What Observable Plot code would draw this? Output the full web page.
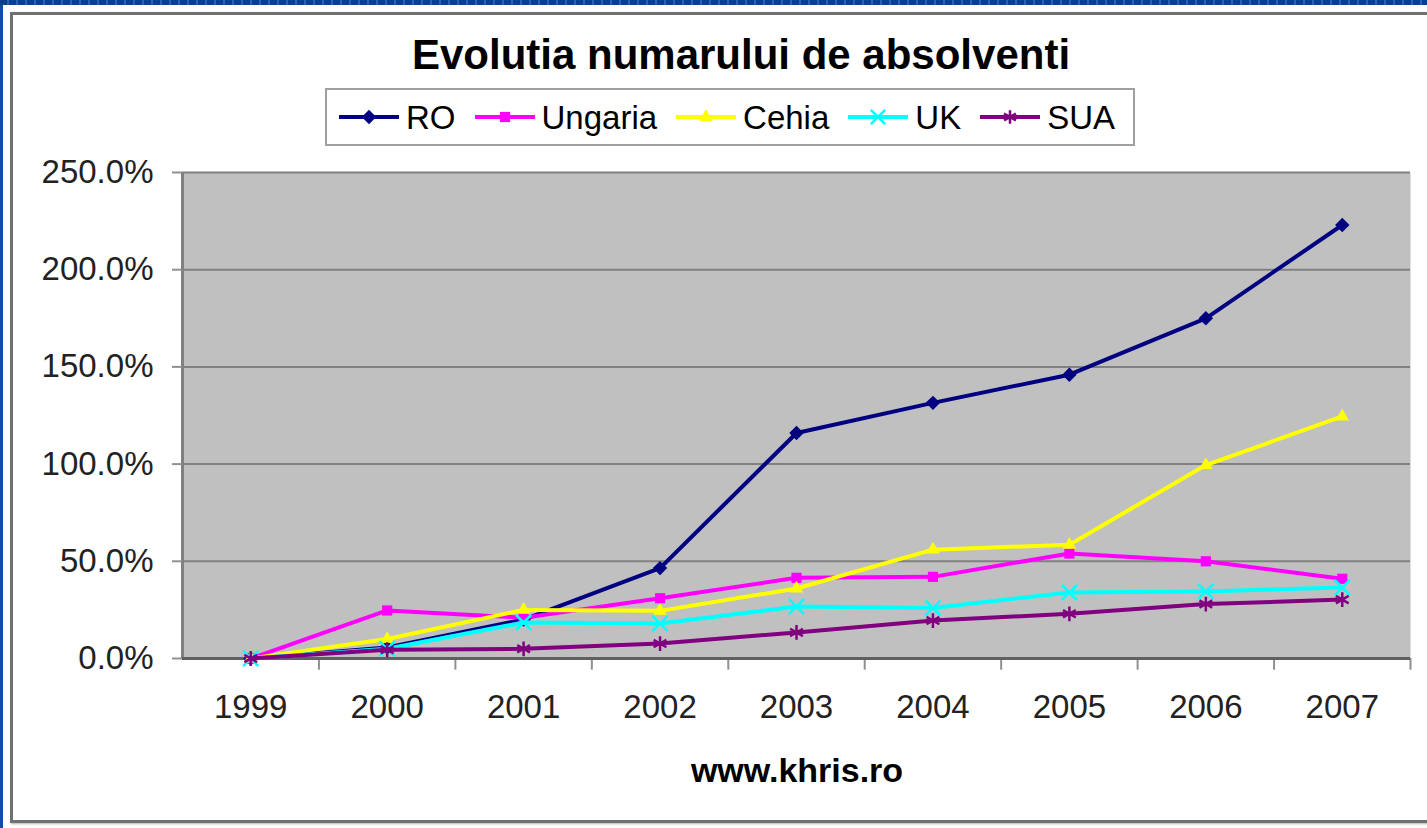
<!DOCTYPE html>
<html><head><meta charset="utf-8">
<script src="https://cdn.jsdelivr.net/npm/d3@7"></script>
<script src="https://cdn.jsdelivr.net/npm/@observablehq/plot@0.6"></script>
<style>
html,body{margin:0;padding:0;}
body{width:1427px;height:828px;position:relative;overflow:hidden;background:#0b4ea2;font-family:"Liberation Sans",Arial,sans-serif;}
#topstrip{position:absolute;left:0;top:0;width:1427px;height:5px;background:repeating-linear-gradient(90deg,#0a3f8a 0 7px,#2a64b0 7px 9px);}
#white{position:absolute;left:3px;top:5px;right:0;bottom:0;background:#fff;}
#frame{position:absolute;left:10px;top:12px;width:1440px;height:805px;border:3px solid #707070;box-shadow:1px 1px 2px #b0b0b0;}
#chart{position:absolute;left:0;top:0;}
#title{position:absolute;left:241px;width:1000px;top:34px;text-align:center;font-weight:bold;font-size:42px;line-height:42px;color:#000;}
#legend{position:absolute;left:325px;top:88px;width:794px;height:54px;border:2px solid #a0a0a0;background:#fff;display:flex;align-items:center;padding-left:12px;box-sizing:content-box;}
#legend .item{display:flex;align-items:center;margin-right:19px;}
#legend .item span{font-size:33px;line-height:33px;margin-left:7px;color:#000;}
#xlabel{position:absolute;left:597px;width:400px;top:753px;text-align:center;font-weight:bold;font-size:34px;line-height:34px;color:#000;}
</style>
</head><body>
<div id="topstrip"></div>
<div id="white"></div>
<div id="frame"></div>
<div id="chart"></div>
<div id="title">Evolutia numarului de absolventi</div>
<div id="legend"></div>
<div id="xlabel">www.khris.ro</div>
<script>
const years = [1999, 2000, 2001, 2002, 2003, 2004, 2005, 2006, 2007];
const seriesNames = ["RO", "Ungaria", "Cehia", "UK", "SUA"];
const ro      = [0, 5.7, 20, 46.5, 116, 131.5, 146, 175, 223];
const ungaria = [0, 24.7, 21, 31, 41.5, 42, 54, 50, 41];
const cehia   = [0, 10, 25, 24.5, 36, 56, 58.5, 99.5, 124.5];
const uk      = [0, 5, 18.5, 18, 26.7, 26, 34, 34.5, 36.5];
const sua     = [0, 4.5, 5, 7.7, 13.4, 19.5, 23, 28, 30.3];
const yTicks = [0, 50, 100, 150, 200, 250];

const seriesValues = [ro, ungaria, cehia, uk, sua];
const colors = ["#000080", "#ff00ff", "#ffff00", "#00ffff", "#800080"];
const symbols = ["diamond2", "square2", "triangle2", "times", "asterisk"];
const filled = [true, true, true, false, false];

const data = seriesNames.flatMap((s, i) => years.map((y, j) => ({series: s, year: y, value: seriesValues[i][j]})));
const bounds = years.map(y => y - 0.5).concat([years[years.length - 1] + 0.5]);

const seriesMarks = seriesNames.flatMap((s, i) => {
  const d = data.filter(r => r.series === s);
  return [
    Plot.line(d, {x: "year", y: "value", stroke: colors[i], strokeWidth: 4}),
    filled[i]
      ? Plot.dot(d, {x: "year", y: "value", symbol: symbols[i], fill: colors[i], stroke: "none", r: 6.5})
      : Plot.dot(d, {x: "year", y: "value", symbol: symbols[i], stroke: colors[i], fill: "none", strokeWidth: 2.5, r: 7})
  ];
});

const chart = Plot.plot({
  width: 1427, height: 828,
  marginLeft: 182, marginRight: 17, marginTop: 172, marginBottom: 170,
  style: {background: "transparent", fontFamily: "'Liberation Sans', Arial, sans-serif", fontSize: "33px", color: "#000", overflow: "visible"},
  x: {type: "linear", domain: [bounds[0], bounds[bounds.length - 1]]},
  y: {domain: [0, 250]},
  marks: [
    Plot.frame({fill: "#c0c0c0", stroke: "none"}),
    Plot.ruleY(yTicks.slice(1), {stroke: "#808080", strokeWidth: 2}),
    Plot.ruleX(bounds.slice(1), {y1: 0, y2: -6, stroke: "#909090", strokeWidth: 2}),
    Plot.ruleX([bounds[0]], {stroke: "#808080", strokeWidth: 3}),
    Plot.ruleY([0], {stroke: "#606060", strokeWidth: 3}),
    Plot.axisY({ticks: yTicks, tickFormat: d => d.toFixed(1) + "%", tickSize: 10, tickPadding: 19, label: null, stroke: "#909090", strokeWidth: 2, fontSize: 33, fill: "#222"}),
    Plot.axisX({ticks: years, tickFormat: d => String(d), tickSize: 0, tickPadding: 36, label: null, fontSize: 33, fill: "#222"}),
    ...seriesMarks
  ]
});
document.getElementById("chart").appendChild(chart);

// legend
const legend = document.getElementById("legend");
const symMap = {diamond2: d3.symbolDiamond2, square2: d3.symbolSquare2, triangle2: d3.symbolTriangle2, times: d3.symbolTimes, asterisk: d3.symbolAsterisk};
seriesNames.forEach((s, i) => {
  const item = document.createElement("div");
  item.className = "item";
  const svg = d3.create("svg").attr("width", 60).attr("height", 24);
  svg.append("line").attr("x1", 0).attr("x2", 60).attr("y1", 12).attr("y2", 12).attr("stroke", colors[i]).attr("stroke-width", 4);
  const p = svg.append("path").attr("transform", "translate(30,12)").attr("d", d3.symbol(symMap[symbols[i]], Math.PI * 6.5 * 6.5)());
  if (filled[i]) p.attr("fill", colors[i]); else p.attr("fill", "none").attr("stroke", colors[i]).attr("stroke-width", 2.5);
  item.appendChild(svg.node());
  const t = document.createElement("span");
  t.textContent = s;
  item.appendChild(t);
  legend.appendChild(item);
});
</script>
</body></html>
